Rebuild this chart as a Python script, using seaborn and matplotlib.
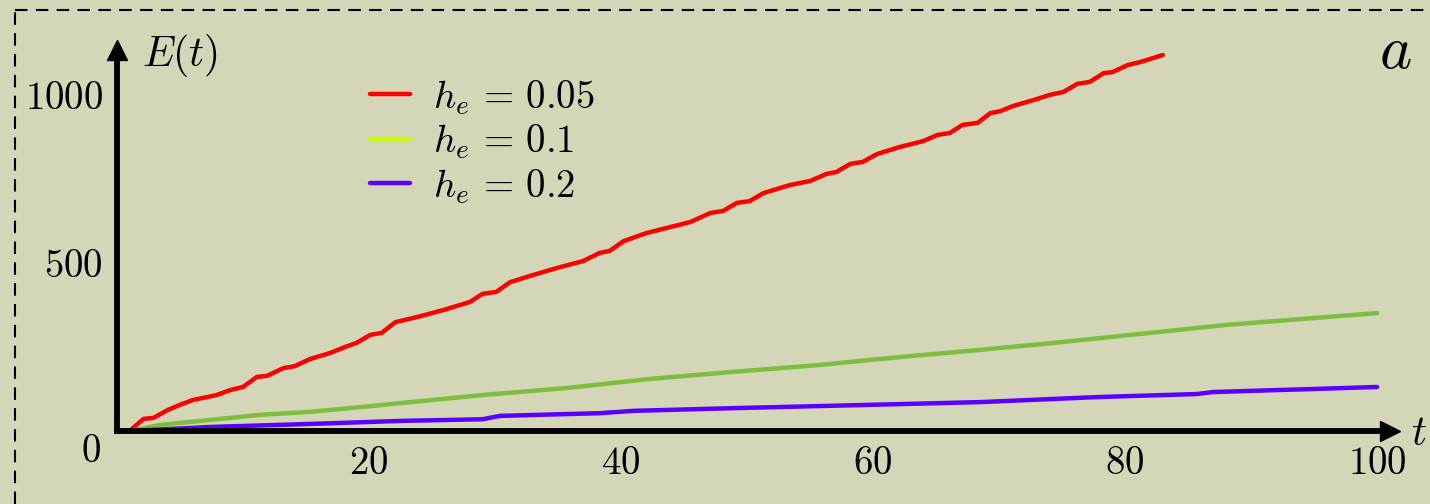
import numpy as np
import pandas as pd
import matplotlib
matplotlib.use('Agg')
import matplotlib.pyplot as plt
import seaborn as sns
from matplotlib.lines import Line2D

# values
t_red = [1.0, 2.1, 2.9, 4.0, 5.0, 6.0, 7.9, 9.0, 10.0, 11.1, 11.9, 13.2, 14.1, 15.3, 16.9,
         18.1, 19.0, 20.1, 21.0, 22.1, 23.8, 25.9, 28.0, 29.0, 30.1, 31.2, 33.0, 34.9, 37.0,
         38.3, 39.1, 40.2, 42.0, 43.6, 45.5, 47.1, 48.1, 49.2, 50.2, 51.3, 53.4, 55.0, 56.3,
         57.1, 58.2, 59.2, 60.3, 62.1, 64.0, 65.1, 66.1, 67.1, 68.3, 69.3, 70.1, 71.1, 73.0,
         74.0, 75.1, 76.2, 77.2, 78.3, 79.0, 80.2, 81.2, 83.0]
e_red = [0, 36, 39, 62, 78, 92, 107, 122, 131, 161, 164, 187, 193, 214, 232,
         250, 262, 286, 292, 324, 339, 360, 384, 408, 414, 443, 464, 485, 506,
         530, 536, 565, 589, 604, 622, 649, 655, 679, 684, 708, 732, 744, 765,
         771, 795, 801, 824, 845, 863, 881, 887, 911, 917, 946, 952, 967, 988,
         1000, 1009, 1033, 1039, 1065, 1068, 1089, 1098, 1119]

t_green = [1.0, 3.4, 7.4, 11.3, 15.3, 19.3, 22.5, 29.0, 35.7, 42.3, 48.9, 55.6, 62.1,
           67.5, 74.3, 81.2, 88.1, 94.9, 100.0]
e_green = [0, 18, 33, 48, 57, 71, 83, 107, 128, 155, 176, 196, 220,
           238, 262, 289, 316, 336, 351]

t_blue = [1.0, 7.4, 15.3, 22.5, 29.0, 30.4, 38.3, 41.0, 48.9, 62.1, 68.5, 77.8, 85.7,
          87.0, 94.9, 100.0]
e_blue = [0, 12, 21, 30, 35, 45, 53, 60, 68, 80, 86, 101, 110,
          116, 125, 131]

labels = [r'$h_e\,=\,0.05$', r'$h_e\,=\,0.1$', r'$h_e\,=\,0.2$']
line_colors = ['#ff0000', '#7dbe3c', '#5a00ff']
legend_colors = ['#ff0000', '#c8ff00', '#5a00ff']

x_ticks = [20, 40, 60, 80, 100]
y_ticks = [250, 500, 750, 1000]
y_ticklabels = ['', r'$500$', '', r'$1000$']

df = pd.concat([
    pd.DataFrame({'t': t_red, 'E': e_red, 'h': labels[0]}),
    pd.DataFrame({'t': t_green, 'E': e_green, 'h': labels[1]}),
    pd.DataFrame({'t': t_blue, 'E': e_blue, 'h': labels[2]}),
])

sns.set_style('white')
plt.rcParams['mathtext.fontset'] = 'cm'
plt.rcParams['font.family'] = ['DejaVu Serif']
plt.rcParams['text.color'] = 'black'
plt.rcParams['xtick.color'] = 'black'
plt.rcParams['ytick.color'] = 'black'

bg = '#d5d5b8'
fig = plt.figure(figsize=(14.3, 5.04), dpi=100, facecolor=bg)
ax = fig.add_axes([117 / 1430, 73 / 504, 0.890, 0.7567])
ax.set_facecolor(bg)

sns.lineplot(data=df, x='t', y='E', hue='h', palette=dict(zip(labels, line_colors)),
             linewidth=3.2, estimator=None, sort=False, legend=False, ax=ax)

ax.set_xlim(0, 101)
ax.set_ylim(0, 1135)
for s in ['top', 'right']:
    ax.spines[s].set_visible(False)
for s in ['left', 'bottom']:
    ax.spines[s].set_linewidth(4.2)
    ax.spines[s].set_color('black')

ax.set_xticks(x_ticks)
ax.set_xticklabels([f'${v}$' for v in x_ticks])
ax.set_yticks(y_ticks)
ax.set_yticklabels(y_ticklabels)
ax.tick_params(direction='in', length=10, width=3, color='black', labelcolor='black',
               labelsize=28, pad=10)
ax.set_xlabel('')
ax.set_ylabel('')

# arrow heads
ax.plot(1, 0, '>k', markersize=14, transform=ax.get_yaxis_transform(), clip_on=False)
ax.plot(0, 1, '^k', markersize=14, transform=ax.get_xaxis_transform(), clip_on=False)

fig.text(142 / 1430, 1 - 66 / 504, r'$E(t)$', fontsize=30, ha='left', va='baseline')
fig.text(1411 / 1430, 1 - 445 / 504, r'$t$', fontsize=30, ha='left', va='baseline')
fig.text(91 / 1430, 1 - 451 / 504, r'$0$', fontsize=28, ha='center', va='center')
fig.text(1412 / 1430, 1 - 68 / 504, r'$a$', fontsize=44, ha='right', va='baseline')

handles = [Line2D([], [], color=c, lw=3.2) for c in legend_colors]
ax.legend(handles, labels, loc='upper left', bbox_to_anchor=(370 / 1430, 1 - 78 / 504),
          bbox_transform=fig.transFigure, frameon=False, fontsize=28, borderpad=0,
          borderaxespad=0, handlelength=1.03, handletextpad=0.6, labelspacing=0.15)

# dashed frame
fig.add_artist(Line2D([15 / 1430, 1], [1 - 10 / 504] * 2, transform=fig.transFigure,
                      color='black', lw=1.5, ls=(0, (6, 4))))
fig.add_artist(Line2D([15 / 1430] * 2, [0, 1 - 10 / 504], transform=fig.transFigure,
                      color='black', lw=1.5, ls=(0, (6, 4))))

fig.savefig('out.png', dpi=100, facecolor=bg)
